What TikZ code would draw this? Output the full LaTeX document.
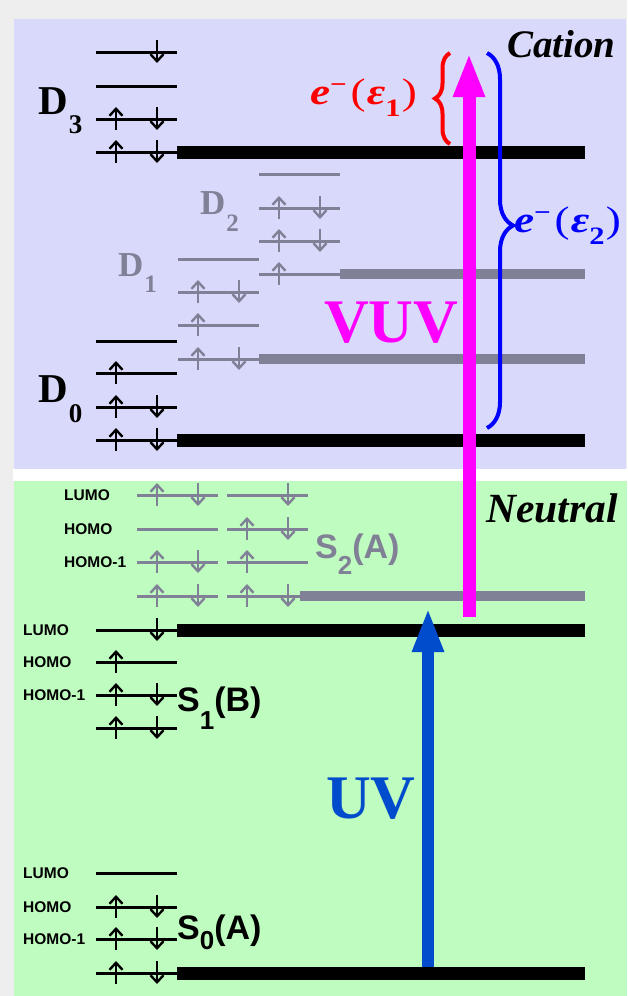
\documentclass[tikz,border=0pt]{standalone}
\usepackage{fontspec}
\setmainfont{Liberation Serif}
\setsansfont{Liberation Sans}
\usetikzlibrary{arrows.meta,decorations.pathreplacing}

\definecolor{cationbg}{RGB}{217,217,251}
\definecolor{neutralbg}{RGB}{191,252,191}
\definecolor{framegray}{RGB}{238,238,238}
\definecolor{lvlgray}{RGB}{128,128,150}
\definecolor{uvblue}{RGB}{0,76,204}
\definecolor{vuvmag}{RGB}{255,0,255}
\definecolor{bred}{RGB}{255,0,0}
\definecolor{bblue}{RGB}{0,0,255}

\newcommand\orbital[5]{% colour, x0, y, up, down
  \draw[orbline,#1] (#2,#3) -- ++(81,0);
  \ifnum#4=1 \draw[spin,#1] (#2+20,#3+11) -- (#2+20,#3-12);\fi
  \ifnum#5=1 \draw[spin,#1] (#2+61,#3-12) -- (#2+61,#3+11);\fi
}
\newcommand\elab[1]{\scalebox{1.22}[1]{\textbf{\textit{e}}\raisebox{12pt}{\fontsize{24}{24}\selectfont\bfseries −}\kern3pt(\kern1pt\textbf{\textit{ε}}\raisebox{-12pt}{\fontsize{25}{25}\selectfont\bfseries #1}\kern1pt)}}

\begin{document}
\begin{tikzpicture}[x=1pt,y=-1pt,
  orbline/.style={line width=3pt},
  spin/.style={line width=2.4pt,-{Straight Barb[length=7pt,width=13pt]}},
  thickblack/.style={line width=13pt,black},
  thickgray/.style={line width=9.5pt,lvlgray},
  dlab/.style={inner sep=0pt,anchor=base west,font=\fontsize{41}{41}\selectfont\bfseries},
  dglab/.style={inner sep=0pt,anchor=base west,lvlgray,font=\fontsize{35}{35}\selectfont\bfseries},
  slab/.style={inner sep=0pt,anchor=base west,font=\fontsize{34}{34}\selectfont\sffamily\bfseries},
  olab/.style={inner sep=0pt,anchor=west,font=\fontsize{15.5}{15.5}\selectfont\sffamily\bfseries},
  bigit/.style={inner sep=0pt,anchor=base west,font=\bfseries\itshape},
  photon/.style={inner sep=0pt,anchor=base west,font=\fontsize{62}{62}\selectfont\bfseries},
  bracestyle/.style={line width=4pt,decorate}
]
\useasboundingbox (0,0) rectangle (627,996);
% backgrounds
\fill[framegray] (0,0) rectangle (627,996);
\fill[cationbg] (14,19) rectangle (626,469);
\fill[white] (13,469) rectangle (627,481);
\fill[neutralbg] (14,481) rectangle (627,996);

% ---------------- Cation: D3 (black)
\orbital{black}{96}{52}{0}{1}
\orbital{black}{96}{86}{0}{0}
\orbital{black}{96}{119}{1}{1}
\orbital{black}{96}{152}{1}{1}
\draw[thickblack] (177,152) -- (585,152);
% D2 (gray)
\orbital{lvlgray}{259}{174}{0}{0}
\orbital{lvlgray}{259}{208}{1}{1}
\orbital{lvlgray}{259}{241}{1}{1}
\orbital{lvlgray}{259}{274}{1}{0}
\draw[thickgray] (340,274) -- (585,274);
% D1 (gray)
\orbital{lvlgray}{178}{259}{0}{0}
\orbital{lvlgray}{178}{292}{1}{1}
\orbital{lvlgray}{178}{325}{1}{0}
\orbital{lvlgray}{178}{359}{1}{1}
\draw[thickgray] (259,359) -- (585,359);
% D0 (black)
\orbital{black}{96}{341}{0}{0}
\orbital{black}{96}{373}{1}{0}
\orbital{black}{96}{407}{1}{1}
\orbital{black}{96}{440}{1}{1}
\draw[thickblack] (177,440) -- (585,440);

% ---------------- Neutral: S2(A) (gray)
\orbital{lvlgray}{137}{495}{1}{1}
\orbital{lvlgray}{137}{529}{0}{0}
\orbital{lvlgray}{137}{562}{1}{1}
\orbital{lvlgray}{137}{596}{1}{1}
\orbital{lvlgray}{227}{495}{0}{1}
\orbital{lvlgray}{227}{529}{1}{1}
\orbital{lvlgray}{227}{562}{1}{0}
\orbital{lvlgray}{227}{596}{1}{1}
\draw[thickgray] (300,596) -- (585,596);
% S1(B)
\orbital{black}{96}{630}{0}{1}
\orbital{black}{96}{662}{1}{0}
\orbital{black}{96}{695}{1}{1}
\orbital{black}{96}{728}{1}{1}
\draw[thickblack] (177,630) -- (585,630);
% S0(A)
\orbital{black}{96}{873}{0}{0}
\orbital{black}{96}{907}{1}{1}
\orbital{black}{96}{939}{1}{1}
\orbital{black}{96}{973}{1}{1}
\draw[thickblack] (177,973) -- (585,973);

% ---------------- labels
\node[dlab] (d3) at (38,114) {D\kern1pt\raisebox{-19pt}{\fontsize{27}{27}\selectfont 3}};
\node[dlab] (d0) at (38,402) {D\kern1pt\raisebox{-20pt}{\fontsize{27}{27}\selectfont 0}};
\node[dglab] (d2) at (200,214) {D\kern1pt\raisebox{-17pt}{\fontsize{25}{25}\selectfont 2}};
\node[dglab] (d1) at (118,276) {D\kern1pt\raisebox{-16pt}{\fontsize{25}{25}\selectfont 1}};

\node[slab,lvlgray] (s2) at (315,558) {S\raisebox{-16pt}{\fontsize{26}{26}\selectfont 2}(A)};
\node[slab] (s1) at (177,711) {S\raisebox{-18pt}{\fontsize{26}{26}\selectfont 1}(B)};
\node[slab] (s0) at (177,939) {S\raisebox{-10pt}{\fontsize{26}{26}\selectfont 0}(A)};

\node[olab] (lumo2) at (64,495) {LUMO};
\node[olab] (homo2) at (64,529) {HOMO};
\node[olab] (homom2) at (64,562) {HOMO-1};
\node[olab] (lumo1) at (23,630) {LUMO};
\node[olab] (homo1) at (23,662) {HOMO};
\node[olab] (homom1) at (23,695) {HOMO-1};
\node[olab] (lumo0) at (23,873) {LUMO};
\node[olab] (homo0) at (23,907) {HOMO};
\node[olab] (homom0) at (23,939) {HOMO-1};

\node[bigit,font=\fontsize{39}{39}\selectfont\bfseries\itshape] (cation) at (507,57) {Cation};
\node[bigit,font=\fontsize{41.5}{41.5}\selectfont\bfseries\itshape] (neutral) at (486,522) {Neutral};

% ---------------- photon arrows
\coordinate (uvfoot) at (428,967);
\coordinate (uvtip) at (428,608);
\draw[uvblue,line width=12pt,-{Triangle[length=44pt,width=29pt]}] (uvfoot) -- (uvtip);
\coordinate (vuvfoot) at (469,617);
\coordinate (vuvtip) at (469,53);
\draw[vuvmag,line width=13pt,-{Triangle[length=44pt,width=29pt]}] (vuvfoot) -- (vuvtip);
\node[photon,uvblue] (uv) at (326,818) {UV};
\node[photon,vuvmag] (vuv) at (324,342) {VUV};

% ---------------- braces
\coordinate (rb1) at (450,144);
\coordinate (rb2) at (450,53);
\draw[bracestyle,bred,decoration={brace,amplitude=15pt}] (rb1) -- (rb2);
\node[inner sep=0pt,anchor=base east,bred,font=\fontsize{37}{37}\selectfont] (eps1) at (417,104) {\elab{1}};
\coordinate (bb1) at (487,53);
\coordinate (bb2) at (487,428);
\draw[bracestyle,bblue,decoration={brace,amplitude=26pt,aspect=0.46}] (bb1) -- (bb2);
\node[inner sep=0pt,anchor=base west,bblue,font=\fontsize{37}{37}\selectfont] (eps2) at (514,232) {\elab{2}};
\end{tikzpicture}
\end{document}
